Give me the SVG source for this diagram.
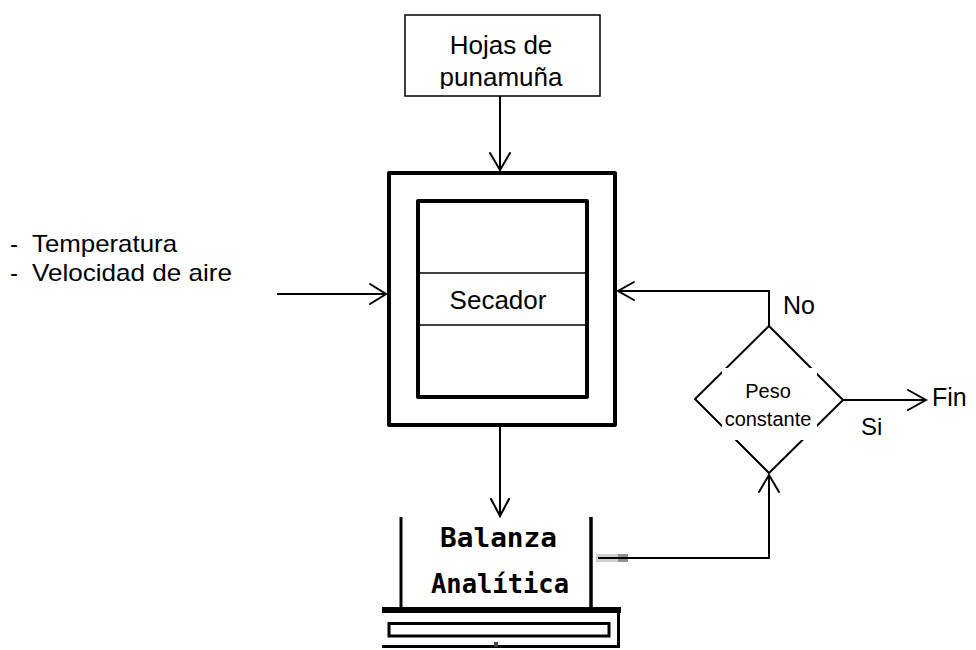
<svg xmlns="http://www.w3.org/2000/svg" width="976" height="650" viewBox="0 0 976 650">
<style>
  .t { font-family: "Liberation Sans", Arial, sans-serif; fill: #000; }
  .thin { fill: none; stroke: #000; stroke-width: 1.5; }
  .thick { fill: none; stroke: #000; stroke-width: 4; stroke-linejoin: round; }
  .conn { fill: none; stroke: #000; stroke-width: 2; }
  .head { fill: none; stroke: #000; stroke-width: 2; stroke-linecap: round; stroke-linejoin: miter; }
  .pix { font-family: "DejaVu Sans Mono", "Liberation Mono", monospace; font-weight: bold; fill: #000; }
</style>
<defs>
  <clipPath id="topclip"><rect x="405" y="15" width="195" height="74"/></clipPath>
</defs>
<rect width="976" height="650" fill="#fff"/>

<g id="hojas">
  <rect x="405" y="15" width="195" height="81" class="thin"/>
  <g clip-path="url(#topclip)">
    <text class="t" x="501" y="54" font-size="26" text-anchor="middle">Hojas de</text>
    <text class="t" x="501" y="86" font-size="26" text-anchor="middle">punamuña</text>
  </g>
</g>

<g id="secador">
  <rect x="389" y="173" width="226" height="252" class="thick"/>
  <rect x="418" y="201" width="169" height="196" class="thick"/>
  <line x1="418" y1="273" x2="587" y2="273" class="thin"/>
  <line x1="418" y1="325" x2="587" y2="325" class="thin"/>
  <text class="t" x="498" y="309" font-size="26" text-anchor="middle">Secador</text>
</g>

<g id="params">
  <text class="t" x="10" y="252" font-size="24">-</text>
  <text class="t" x="32" y="252" font-size="24" textLength="145" lengthAdjust="spacingAndGlyphs">Temperatura</text>
  <text class="t" x="10" y="281" font-size="24">-</text>
  <text class="t" x="32" y="281" font-size="24" textLength="200" lengthAdjust="spacingAndGlyphs">Velocidad de aire</text>
</g>

<g id="balanza">
  <line x1="401" y1="517" x2="401" y2="608" stroke="#000" stroke-width="3"/>
  <line x1="591" y1="517" x2="591" y2="608" stroke="#000" stroke-width="3.5"/>
  <rect x="382" y="607" width="239" height="6" fill="#000"/>
  <line x1="618.5" y1="612" x2="618.5" y2="647" stroke="#000" stroke-width="3"/>
  <line x1="382" y1="646.5" x2="620" y2="646.5" stroke="#000" stroke-width="3"/>
  <rect x="389" y="623.5" width="220" height="12.5" fill="none" stroke="#000" stroke-width="3"/>
  <rect x="494" y="642" width="4" height="5" fill="#444"/>
  <text class="pix" x="440" y="547" font-size="26" textLength="117" lengthAdjust="spacingAndGlyphs">Balanza</text>
  <text class="pix" x="431" y="593" font-size="26" textLength="138" lengthAdjust="spacingAndGlyphs">Analítica</text>
</g>

<g id="decision">
  <polygon points="769,326 843,400 769,473 695,399" fill="none" stroke="#000" stroke-width="2"/>
  <rect x="722" y="368" width="95" height="72" fill="#fff"/>
  <text class="t" x="768" y="398" font-size="20" text-anchor="middle">Peso</text>
  <text class="t" x="768" y="426" font-size="20" text-anchor="middle">constante</text>
</g>

<g id="connectors">
  <line x1="500" y1="96" x2="500" y2="170" class="conn"/>
  <polyline points="490,153 500,170 510,153" class="head"/>
  <line x1="277" y1="294" x2="386" y2="294" class="conn"/>
  <polyline points="370,284 386,294 370,304" class="head"/>
  <line x1="500" y1="427" x2="500" y2="516" class="conn"/>
  <polyline points="491,499 500,516 509,499" class="head"/>
  <rect x="596" y="554" width="22" height="8" fill="#d0d0d0"/>
  <rect x="618" y="554" width="10" height="8" fill="#909090"/>
  <polyline points="598,558 769,558 769,475" class="conn"/>
  <polyline points="759,492 769,475 779,492" class="head"/>
  <polyline points="769,326 769,291 618,291" class="conn"/>
  <polyline points="634,282 618,291 634,300" class="head"/>
  <line x1="843" y1="400" x2="926" y2="400" class="conn"/>
  <polyline points="908,390 926,400 908,410" class="head"/>
</g>

<g id="labels">
  <text class="t" x="783" y="314" font-size="25">No</text>
  <text class="t" x="861" y="435" font-size="24">Si</text>
  <text class="t" x="932" y="406" font-size="25">Fin</text>
</g>
</svg>
